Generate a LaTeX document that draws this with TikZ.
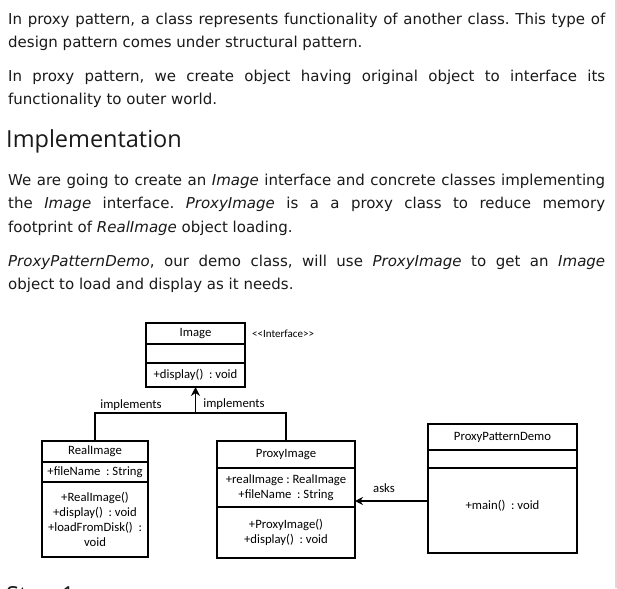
\documentclass[tikz,border=0pt]{standalone}
\usepackage{fontspec}
\usepackage{tikz}
\usetikzlibrary{positioning,arrows.meta}
\newfontfamily\pagefont{DejaVu Sans}
\newfontfamily\headfont{Open Sans}
\newfontfamily\umlfont{Carlito}
\definecolor{textcol}{RGB}{25,25,25}
\tikzset{>={Stealth[length=8pt,width=8pt]}}
\tikzset{
  pageline/.style={inner sep=0pt, anchor=base west, text=textcol, font=\pagefont\fontsize{15}{23}\selectfont},
  umlbox/.style={draw, line width=1.4pt, outer sep=0pt, inner sep=0pt, align=center, font=\umlfont\fontsize{12.7}{15}\selectfont},
  umltext/.style={inner sep=0pt, font=\umlfont\fontsize{12.7}{15}\selectfont},
}
\newcommand{\jline}[1]{\makebox[597pt][s]{#1}}
\frenchspacing

\begin{document}
\begin{tikzpicture}[x=1pt,y=-1pt]
  \useasboundingbox (0,0) rectangle (617,588);
  \clip (0,0) rectangle (617,588);
  \draw[black!15, line width=2pt] (615.5,0) -- (615.5,588);

  % text of the page
  \node[pageline] at (8,25) (l1) {\jline{In proxy pattern, a class represents functionality of another class. This type of}};
  \node[pageline] at (8,48) (l2) {design pattern comes under structural pattern.};
  \node[pageline] at (8,82) (l3) {\jline{In proxy pattern, we create object having original object to interface its}};
  \node[pageline] at (8,105) (l4) {functionality to outer world.};
  \node[pageline, font=\headfont\fontsize{23.5}{28}\selectfont] at (6,147) (impl) {Implementation};
  \node[pageline] at (8,185) (l5) {\jline{We are going to create an \textit{Image} interface and concrete classes implementing}};
  \node[pageline] at (8,208) (l6) {\jline{the \textit{Image} interface. \textit{ProxyImage} is a a proxy class to reduce memory}};
  \node[pageline] at (8,232) (l7) {footprint of \textit{RealImage} object loading.};
  \node[pageline] at (8,266) (l8) {\jline{\textit{ProxyPatternDemo}, our demo class, will use \textit{ProxyImage} to get an \textit{Image}}};
  \node[pageline] at (8,289) (l9) {object to load and display as it needs.};
  \node[pageline, font=\headfont\fontsize{23.5}{28}\selectfont] at (6,603) (step) {Step 1};

  % Image
  \node[umlbox, minimum width=99pt, minimum height=21pt, anchor=north] at (195.5,323) (img) {Image};
  \node[umlbox, minimum width=99pt, minimum height=19pt, below=0pt of img] (imgattr) {};
  \node[umlbox, minimum width=99pt, minimum height=24pt, below=0pt of imgattr] (imgops) {+display()\ \ : void};
  \node[umltext, anchor=west, font=\umlfont\fontsize{11}{12}\selectfont] at (252,334) (stereo) {<{}<Interface>{}>};

  % RealImage
  \node[umlbox, minimum width=106pt, minimum height=21pt, anchor=north] at (95,441) (real) {RealImage};
  \node[umlbox, minimum width=106pt, minimum height=20pt, below=0pt of real] (realattr) {+fileName\ \ : String};
  \node[umlbox, minimum width=106pt, minimum height=75pt, below=0pt of realattr] (realops) {+RealImage()\\+display()\ \ : void\\+loadFromDisk()\ \ :\\void};

  % ProxyImage
  \node[umlbox, minimum width=138pt, minimum height=27pt, anchor=north] at (286,441) (proxy) {ProxyImage};
  \node[umlbox, minimum width=138pt, minimum height=39pt, below=0pt of proxy] (proxyattr) {+realImage : RealImage\\+fileName\ \ : String};
  \node[umlbox, minimum width=138pt, minimum height=51pt, below=0pt of proxyattr] (proxyops) {+ProxyImage()\\+display()\ \ : void};

  % ProxyPatternDemo
  \node[umlbox, minimum width=149pt, minimum height=26pt, anchor=north] at (502.5,424) (demo) {ProxyPatternDemo};
  \node[umlbox, minimum width=149pt, minimum height=18pt, below=0pt of demo] (demoattr) {};
  \node[umlbox, minimum width=149pt, minimum height=85pt, text depth=11pt, below=0pt of demoattr] (demoops) {+main()\ \ : void};

  % connectors
  \coordinate (fork) at (195.5,413);
  \draw[line width=1.6pt, -{Stealth[length=9pt,width=9pt]}] (fork) -- (imgops.south);
  \draw[line width=1.4pt] (real.north) |- (fork) -| (proxy.north);
  \node[umltext] at (131,405) (implA) {implements};
  \node[umltext] at (234,404) (implB) {implements};

  \coordinate (askfrom) at (428,501);
  \draw[line width=1.2pt, ->] (askfrom) -- (askfrom -| proxyattr.east);
  \node[umltext] at (384,488) (asks) {asks};
\end{tikzpicture}
\end{document}
